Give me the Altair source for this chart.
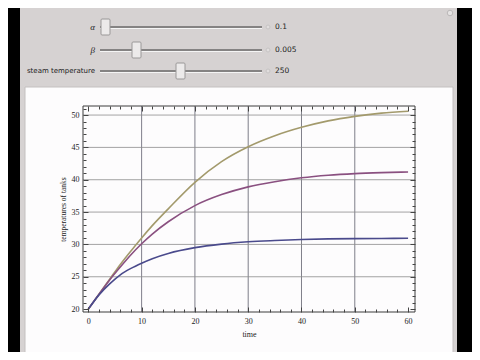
import altair as alt
import pandas as pd

# ---- data ----
time = [0, 2, 4, 6, 8, 10, 12, 15, 20, 25, 30, 35, 40, 45, 50, 55, 60]
tank_low = [20.0, 22.2, 23.9, 25.3, 26.3, 27.1, 27.8, 28.6, 29.5, 30.05, 30.4, 30.6, 30.75, 30.85, 30.9, 30.92, 30.95]
tank_mid = [20.0, 22.3, 24.5, 26.5, 28.4, 30.1, 31.6, 33.5, 36.0, 37.7, 38.9, 39.7, 40.3, 40.7, 40.95, 41.1, 41.2]
tank_high = [20.0, 22.3, 24.6, 26.9, 29.0, 31.0, 32.9, 35.5, 39.6, 42.8, 45.1, 46.8, 48.1, 49.1, 49.8, 50.3, 50.6]
series_names = ["tank 1", "tank 2", "tank 3"]
series_colors = ["#a39a6c", "#8a5080", "#4a4a8c"]

x_major = [0, 10, 20, 30, 40, 50, 60]
x_minor = [v for v in range(0, 61, 2) if v % 10 != 0]
y_major = [20, 25, 30, 35, 40, 45, 50]
y_minor = [v for v in range(20, 52) if v % 5 != 0]
x_grid = [10, 20, 30, 40, 50]
y_grid = [25, 30, 35, 40, 45, 50]
x_range = [-1.0, 61.3]
y_range = [19.55, 51.4]

slider_labels = ["α", "β", "steam temperature"]
slider_values = ["0.1", "0.005", "250"]

rows = []
for name, vals in zip(series_names, [tank_high, tank_mid, tank_low]):
    for t, v in zip(time, vals):
        rows.append({"t": t, "temp": v, "series": name})
df = pd.DataFrame(rows)

xscale = alt.Scale(domain=x_range, nice=False, zero=False)
yscale = alt.Scale(domain=y_range, nice=False, zero=False)
SERIF = "Liberation Serif"
SANS = "DejaVu Sans"
one = pd.DataFrame({"k": [0]})

# ---- interface chrome (pixel layout relative to plot origin) ----
gray_panel = alt.Chart(one).mark_rect(fill="#d6d2d2").encode(
    x=alt.value(-63), x2=alt.value(374), y=alt.value(-98), y2=alt.value(246))
white_panel = alt.Chart(one).mark_rect(fill="#fdfcfd", stroke="#c4c0c0", strokeWidth=1).encode(
    x=alt.value(-58), x2=alt.value(370), y=alt.value(-19), y2=alt.value(250))
button = alt.Chart(one).mark_point(shape="circle", size=30, filled=True, color="#ecebeb",
                                   stroke="#b0aeae", strokeWidth=1).encode(
    x=alt.value(367), y=alt.value(-93))

row_y = [-79, -56, -35]
thumb_x = [18, 49, 93]
chrome = [gray_panel, white_panel, button]
for i in range(3):
    yy = row_y[i]
    chrome.append(alt.Chart(one).mark_rule(stroke="#858383", strokeWidth=2).encode(
        x=alt.value(17), x2=alt.value(179), y=alt.value(yy)))
    chrome.append(alt.Chart(one).mark_rule(stroke="#f5f5f5", strokeWidth=1).encode(
        x=alt.value(17), x2=alt.value(179), y=alt.value(yy + 1.5)))
    chrome.append(alt.Chart(one).mark_rect(fill="#eceaea", stroke="#9a9898", strokeWidth=1,
                                           cornerRadius=1).encode(
        x=alt.value(thumb_x[i]), x2=alt.value(thumb_x[i] + 9),
        y=alt.value(yy - 8), y2=alt.value(yy + 8)))
    chrome.append(alt.Chart(one).mark_point(shape="circle", size=16, filled=True, color="#e6e4e4",
                                            stroke="#c0bebe", strokeWidth=1).encode(
        x=alt.value(185), y=alt.value(yy)))
    if i < 2:
        lab = alt.Chart(one).mark_text(align="right", baseline="middle", font=SERIF,
                                       fontStyle="italic", fontSize=9, color="#222")
    else:
        lab = alt.Chart(one).mark_text(align="right", baseline="middle", font=SANS,
                                       fontSize=7, color="#222")
    chrome.append(lab.encode(x=alt.value(12), y=alt.value(yy), text=alt.value(slider_labels[i])))
    chrome.append(alt.Chart(one).mark_text(align="left", baseline="middle", font=SANS,
                                           fontSize=7.5, color="#222").encode(
        x=alt.value(192), y=alt.value(yy), text=alt.value(slider_values[i])))

# ---- grid ----
gx = alt.Chart(pd.DataFrame({"g": x_grid})).mark_rule(stroke="#5e5e6c", strokeWidth=0.8).encode(
    x=alt.X("g:Q", scale=xscale, axis=None))
gy = alt.Chart(pd.DataFrame({"g": y_grid})).mark_rule(stroke="#8c8c8c", strokeWidth=0.8).encode(
    y=alt.Y("g:Q", scale=yscale, axis=None))

def ax(orient, values, size, labels, title=None):
    kw = dict(orient=orient, values=values, tickSize=size, offset=-size, domain=False,
              grid=False, tickColor="#444", tickWidth=1, zindex=1, labels=labels,
              title=title)
    if labels:
        kw.update(labelFont=SERIF, labelFontSize=8, labelColor="#222", labelPadding=5 if orient == "bottom" else 4,
                  titleFont=SERIF, titleFontSize=7.5 if orient == "left" else 8,
                  titleFontWeight="normal", titleColor="#222",
                  titlePadding=5 if orient == "bottom" else 4, format="d")
    return alt.Axis(**kw)

lines = alt.Chart(df).mark_line(strokeWidth=1.6, interpolate="monotone").encode(
    x=alt.X("t:Q", scale=xscale, axis=ax("bottom", x_major, 5, True, "time")),
    y=alt.Y("temp:Q", scale=yscale, axis=ax("left", y_major, 5, True, "temperatures of tanks")),
    color=alt.Color("series:N", scale=alt.Scale(domain=series_names, range=series_colors), legend=None),
)

frame = alt.Chart(pd.DataFrame({"x0": [x_range[0]], "x1": [x_range[1]],
                                "y0": [y_range[0]], "y1": [y_range[1]]})).mark_rect(
    fill="transparent", stroke="#3c3c3c", strokeWidth=1).encode(
    x=alt.X("x0:Q", scale=xscale, axis=None), x2="x1",
    y=alt.Y("y0:Q", scale=yscale, axis=None), y2="y1")

def ghost(xa, ya):
    return alt.Chart(df).mark_line(strokeOpacity=0).encode(
        x=alt.X("t:Q", scale=xscale, axis=xa),
        y=alt.Y("temp:Q", scale=yscale, axis=ya),
        detail="series:N")

g1 = ghost(ax("bottom", x_minor, 3, False), ax("left", y_minor, 3, False))
g2 = ghost(ax("top", x_major, 5, False), ax("right", y_major, 5, False))
g3 = ghost(ax("top", x_minor, 3, False), ax("right", y_minor, 3, False))

chart = alt.layer(*chrome, gx, gy, lines, frame, g1, g2, g3).resolve_axis(
    x="independent", y="independent"
).properties(
    width=332, height=206,
    autosize=alt.AutoSizeParams(type="none"),
    padding={"left": 75, "top": 98, "right": 57, "bottom": 40},
    background="black",
).configure_view(stroke=None, fill=None)

chart.save("out.html", embed_options={"renderer": "svg", "actions": False})
